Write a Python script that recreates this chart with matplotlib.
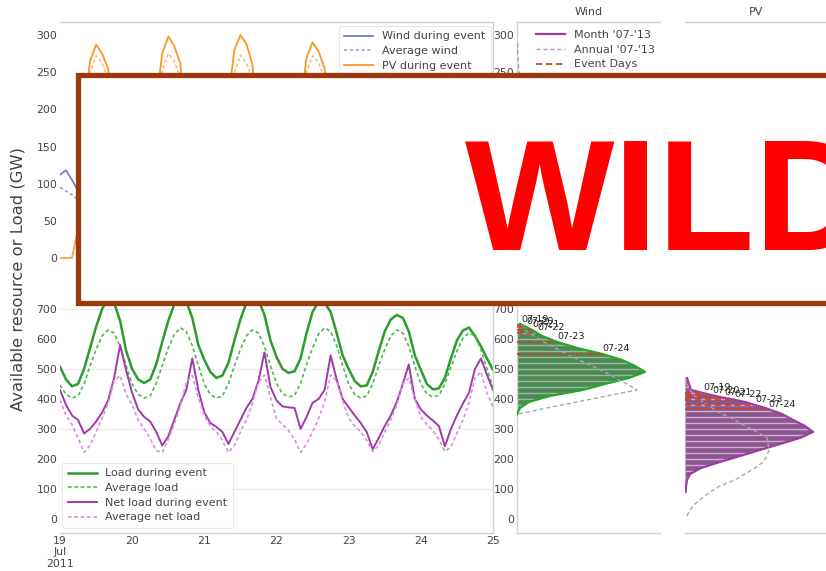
import numpy as np
import matplotlib
matplotlib.use("Agg")
import matplotlib.pyplot as plt
from matplotlib.patches import Rectangle
from matplotlib.lines import Line2D

# ---------------- data ----------------
# 2-hourly samples, 19 Jul 2011 00:00 .. 25 Jul 2011 00:00 (GW)
load_event = [
    507, 465, 442, 450, 500, 570, 640, 700, 735, 720, 660, 560,
    500, 465, 453, 465, 515, 590, 660, 715, 740, 725, 670, 580,
    530, 490, 470, 478, 520, 595, 665, 720, 745, 730, 680, 595,
    540, 500, 487, 492, 535, 620, 690, 725, 720, 690, 620, 545,
    500, 460, 442, 445, 490, 560, 625, 665, 680, 670, 625, 545,
    497, 450, 432, 435, 470, 535, 595, 628, 638, 610, 575, 535,
    497]
load_avg = [
    447, 415, 403, 410, 450, 510, 565, 610, 630, 620, 575, 510,
    450, 415, 403, 410, 452, 512, 568, 615, 637, 625, 578, 512,
    450, 415, 403, 410, 450, 510, 565, 610, 630, 620, 575, 510,
    452, 417, 407, 412, 452, 515, 570, 617, 637, 625, 578, 512,
    450, 415, 403, 410, 450, 510, 565, 610, 630, 620, 575, 510,
    450, 417, 407, 412, 450, 505, 560, 603, 620, 610, 565, 500,
    440]
net_event = [
    430, 380, 345, 330, 285, 300, 325, 355, 395, 470, 580, 495,
    420, 365, 340, 325, 290, 245, 275, 330, 385, 430, 535, 430,
    355, 320, 307, 290, 250, 290, 330, 370, 400, 460, 555, 440,
    395, 375, 372, 370, 300, 340, 387, 400, 430, 545, 465, 400,
    373, 345, 320, 290, 232, 270, 310, 345, 390, 450, 515, 400,
    365, 345, 328, 310, 242, 300, 345, 385, 420, 500, 535, 480,
    430]
net_avg = [
    397, 345, 315, 270, 222, 245, 290, 335, 385, 460, 478, 415,
    380, 330, 300, 268, 228, 222, 265, 315, 375, 455, 478, 405,
    345, 310, 290, 262, 222, 245, 290, 330, 385, 455, 480, 405,
    335, 315, 295, 265, 222, 250, 290, 335, 390, 480, 460, 395,
    335, 310, 290, 262, 225, 245, 290, 330, 380, 450, 470, 400,
    340, 315, 295, 265, 225, 240, 285, 330, 385, 470, 490, 420,
    373]
pv_event = [
    0, 0, 0, 40, 200, 265, 287, 275, 255, 150, 20, 0,
    0, 0, 0, 45, 210, 275, 298, 285, 262, 155, 20, 0,
    0, 0, 0, 45, 215, 280, 300, 288, 260, 150, 20, 0,
    0, 0, 0, 40, 205, 270, 290, 278, 255, 145, 18, 0,
    0, 0, 0, 35, 180, 235, 250, 240, 220, 130, 15, 0,
    0, 0, 0, 35, 175, 230, 245, 235, 215, 125, 15, 0,
    0]
pv_avg = [
    0, 0, 0, 35, 185, 250, 272, 262, 240, 140, 18, 0,
    0, 0, 0, 35, 188, 252, 275, 265, 242, 140, 18, 0,
    0, 0, 0, 34, 185, 250, 273, 262, 240, 138, 17, 0,
    0, 0, 0, 35, 186, 250, 272, 263, 241, 140, 18, 0,
    0, 0, 0, 33, 180, 245, 268, 258, 236, 136, 17, 0,
    0, 0, 0, 33, 178, 243, 265, 255, 233, 134, 16, 0,
    0]
wind_event = [
    112, 118, 105, 90, 70, 55, 45, 48, 58, 72, 85, 80,
    75, 70, 62, 55, 45, 38, 35, 40, 50, 60, 70, 72,
    70, 65, 60, 52, 45, 40, 38, 42, 50, 58, 66, 68,
    66, 60, 55, 50, 42, 38, 36, 40, 48, 56, 64, 66,
    64, 58, 52, 48, 42, 38, 36, 40, 46, 54, 60, 62,
    60, 56, 50, 46, 40, 36, 34, 38, 44, 52, 58, 60,
    58]
wind_avg = [
    95, 90, 85, 78, 68, 60, 58, 62, 72, 85, 95, 98,
    96, 91, 85, 77, 67, 60, 57, 61, 71, 84, 94, 97,
    95, 90, 84, 77, 68, 61, 58, 62, 72, 85, 95, 98,
    96, 90, 85, 78, 68, 60, 57, 62, 72, 84, 94, 97,
    95, 90, 84, 77, 67, 60, 58, 62, 71, 84, 95, 98,
    96, 91, 85, 78, 68, 61, 58, 62, 72, 85, 95, 98,
    96]

day_ticks = [19, 20, 21, 22, 23, 24, 25]
day_labels = ["19\nJul\n2011", "20", "21", "22", "23", "24", "25"]

# distributions (relative frequency, arbitrary units), 20 GW bins
wind_bins = [10, 30, 50, 70, 90, 110, 130, 150, 170, 190]
wind_month = [40, 90, 120, 110, 80, 50, 25, 10, 4, 1]
wind_annual_bins = [10, 30, 50, 70, 90, 110, 130, 150, 170, 190, 210, 230, 250, 270, 290]
wind_annual = [60, 100, 105, 90, 70, 52, 38, 27, 18, 11, 7, 4, 2, 1, 0.5]
pv_bins = [10, 30, 50, 70, 90, 110, 130, 150, 170, 190, 210, 230]
pv_month = [130, 20, 15, 12, 11, 10, 10, 10, 9, 9, 8, 6]
pv_annual = [125, 30, 22, 18, 15, 13, 12, 10, 8, 6, 4, 2]

load_bins = [350, 370, 390, 410, 430, 450, 470, 490, 510, 530, 550, 570, 590, 610, 630, 650]
load_month = [0, 3, 12, 33, 66, 88, 112, 128, 118, 105, 85, 60, 40, 25, 15, 3]
load_annual = [2, 30, 60, 90, 120, 110, 98, 88, 75, 62, 50, 38, 27, 17, 8, 3]
load_event_days = [("07-19", 648), ("07-20", 640), ("07-21", 630), ("07-22", 620),
                   ("07-23", 590), ("07-24", 550)]

net_bins = [90, 110, 130, 150, 170, 190, 210, 230, 250, 270, 290,
            310, 330, 350, 370, 390, 410, 430, 450, 470]
net_month = [0.5, 1, 2, 5, 16, 35, 55, 75, 95, 115, 128,
             120, 108, 97, 80, 60, 30, 6, 4, 2]
net_annual_bins = [10, 30, 50, 70, 90, 110, 130, 150, 170, 190, 210, 230, 250, 270, 290,
                   310, 330, 350, 370, 390, 410, 430, 450, 470]
net_annual = [2, 5, 10, 17, 25, 35, 50, 60, 70, 78, 82, 84, 83, 82, 72,
              60, 50, 37, 27, 18, 10, 5, 2, 0.5]
net_event_days = [("07-19", 420), ("07-20", 412), ("07-21", 404), ("07-22", 397),
                  ("07-23", 380), ("07-24", 366)]

# ---------------- style ----------------
C_WIND, C_WIND_AVG = "#6f82c4", "#8f9fd6"
C_PV, C_PV_AVG = "#ff9428", "#ffb870"
C_LOAD, C_LOAD_AVG = "#2a9d2a", "#4cbb4c"
C_NET, C_NET_AVG = "#a03aa8", "#d890dc"
C_EVENT = "#c8452e"
C_SPINE = "#d0d0d0"
C_TEXT = "#444444"
DOT = (0, (2.2, 1.6))
DASH = (0, (3, 2))

W, H = 826, 571
fig = plt.figure(figsize=(W / 100, H / 100), dpi=100)


def px_axes(x0, y0, x1, y1, **kw):
    return fig.add_axes([x0 / W, 1 - y1 / H, (x1 - x0) / W, (y1 - y0) / H], **kw)


ax_res = px_axes(60, 22, 493, 280)
ax_ld = px_axes(60, 296, 493, 533, sharex=ax_res)
ax_wh = px_axes(517, 22, 660, 280, sharey=ax_res)
ax_ph = px_axes(685, 22, 828, 280, sharey=ax_res)
ax_lh = px_axes(517, 296, 660, 533, sharey=ax_ld)
ax_nh = px_axes(685, 296, 828, 533, sharey=ax_ld)

for ax in fig.axes:
    for s in ax.spines.values():
        s.set_color(C_SPINE)
        s.set_linewidth(1.0)
    ax.tick_params(length=0, labelsize=7.8, colors=C_TEXT, pad=2)
    ax.set_facecolor("white")

t = 19 + np.arange(len(load_event)) * 2 / 24.0

LEG_KW = dict(fontsize=8, handlelength=2.6, handletextpad=0.8, labelspacing=0.42,
              borderpad=0.5)

# resource panel
ax_res.plot(t, wind_event, color=C_WIND, lw=1.3, label="Wind during event")
ax_res.plot(t, wind_avg, color=C_WIND_AVG, lw=1.1, ls=DOT, label="Average wind")
ax_res.plot(t, pv_event, color=C_PV, lw=1.3, label="PV during event")
ax_res.plot(t, pv_avg, color=C_PV_AVG, lw=1.1, ls=DOT, label="Average PV")
ax_res.set_ylim(-29.6, 317.5)
ax_res.set_yticks([0, 50, 100, 150, 200, 250, 300])
ax_res.spines["left"].set_visible(False)
ax_res.spines["bottom"].set_visible(False)
ax_res.tick_params(axis="x", labelbottom=False)
leg = ax_res.legend(loc="upper right", bbox_to_anchor=(0.995, 0.985), borderaxespad=0,
                    frameon=True, **LEG_KW)
leg.get_frame().set_edgecolor("#e0e0e0")
leg.get_frame().set_linewidth(0.8)
for txt in leg.get_texts():
    txt.set_color(C_TEXT)

# load panel
for v in (100, 300, 500, 700):
    ax_ld.axhline(v, color="#ececec", lw=1.0, zorder=0)
ax_ld.plot(t, load_event, color=C_LOAD, lw=1.8, label="Load during event")
ax_ld.plot(t, load_avg, color=C_LOAD_AVG, lw=1.2, ls=DOT, label="Average load")
ax_ld.plot(t, net_event, color=C_NET, lw=1.4, label="Net load during event")
ax_ld.plot(t, net_avg, color=C_NET_AVG, lw=1.2, ls=DOT, label="Average net load")
ax_ld.set_ylim(-46.7, 743)
ax_ld.set_yticks([0, 100, 200, 300, 400, 500, 600, 700])
ax_ld.set_xlim(19, 25)
ax_ld.set_xticks(day_ticks)
ax_ld.set_xticklabels(day_labels, linespacing=1.2)
ax_ld.spines["left"].set_visible(False)
ax_ld.spines["top"].set_visible(False)
leg2 = ax_ld.legend(loc="lower left", bbox_to_anchor=(0.005, 0.021), borderaxespad=0,
                    frameon=True, **LEG_KW)
leg2.get_frame().set_edgecolor("#e4e4e4")
leg2.get_frame().set_linewidth(0.8)
for txt in leg2.get_texts():
    txt.set_color(C_TEXT)

fig.text(18 / W, 1 - 279 / H, "Available resource or Load (GW)", rotation=90,
         ha="center", va="center", fontsize=11.8, color=C_TEXT)


def draw_dist(ax, bins, month, annual_bins, annual, fill, stripe, line, events=None):
    poly = ax.fill_betweenx(bins, 0, month, color=fill, lw=0, zorder=2)
    edges = np.asarray(bins, dtype=float) - 10
    stripes = ax.hlines(edges, 0, 143, colors=stripe, lw=1.0, zorder=2.5)
    path = poly.get_paths()[0]
    stripes.set_clip_path(path, ax.transData)
    ax.plot(month, bins, color=line, lw=1.6, zorder=3)
    ax.plot(annual, annual_bins, color="#a8a8a8", lw=1.0, ls=DASH, zorder=4)
    if events:
        for lab, v in events:
            end = np.interp(v, bins, month)
            ax.plot([0, end], [v, v], color=C_EVENT, lw=1.3, ls=(0, (3.5, 2)), zorder=5)
            ax.text(end, v + 2, lab, fontsize=6.8, color="#222222", ha="left",
                    va="bottom", zorder=6)
    ax.set_xlim(0, 143)
    ax.set_xticks([])


draw_dist(ax_wh, wind_bins, wind_month, wind_annual_bins, wind_annual,
          "#7f8fc6", "#c0c8e8", C_WIND)
draw_dist(ax_ph, pv_bins, pv_month, pv_bins, pv_annual, "#f0a060", "#ffd0a0", C_PV)
draw_dist(ax_lh, load_bins, load_month, load_bins, load_annual, "#4f8758", "#8fbf95",
          "#22aa22", load_event_days)
draw_dist(ax_nh, net_bins, net_month, net_annual_bins, net_annual, "#875a89", "#d9a5db",
          C_NET, net_event_days)

ax_wh.set_title("Wind", fontsize=8, color=C_TEXT, pad=5)
ax_ph.set_title("PV", fontsize=8, color=C_TEXT, pad=5)
for ax in (ax_wh, ax_ph):
    ax.spines["bottom"].set_visible(False)
    ax.spines["right"].set_visible(False)
for ax in (ax_lh, ax_nh):
    ax.spines["top"].set_visible(False)
    ax.spines["right"].set_visible(False)
for ax in (ax_ph, ax_nh):
    ax.spines["left"].set_visible(False)
    ax.tick_params(axis="y", labelleft=False)

# distribution legend
handles = [Line2D([], [], color=C_NET, lw=1.6),
           Line2D([], [], color="#a8a8a8", lw=1.0, ls=DASH),
           Line2D([], [], color=C_EVENT, lw=1.3, ls=(0, (3.5, 2)))]
leg3 = ax_wh.legend(handles, ["Month '07-'13", "Annual '07-'13", "Event Days"],
                    loc="upper right", bbox_to_anchor=(1.0, 0.99), borderaxespad=0,
                    frameon=False, **LEG_KW)
for txt in leg3.get_texts():
    txt.set_color(C_TEXT)

# banner
fig.patches.append(Rectangle((77.5 / W, 1 - 302.5 / H), 1.0, (302.5 - 74.5) / H,
                             transform=fig.transFigure, facecolor="white",
                             edgecolor="#983a0c", linewidth=3.8, zorder=10))
fig.text(465 / W, 1 - 250 / H, "WILD", fontsize=114, fontweight="bold",
         family="Liberation Sans", color="#ff0000", ha="left", va="baseline", zorder=11)

fig.savefig("out.png", dpi=100)
